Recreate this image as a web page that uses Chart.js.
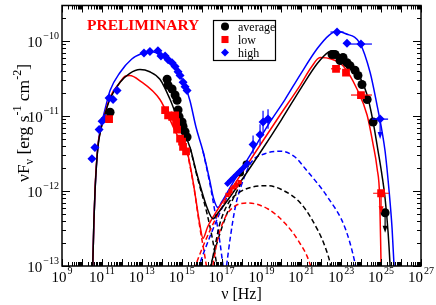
<!DOCTYPE html>
<html>
<head>
<meta charset="utf-8">
<script src="https://cdn.jsdelivr.net/npm/chart.js@4/dist/chart.umd.min.js"></script>
<style>
	html, body { margin: 0; padding: 0; background: #fff; }
</style>
</head>
<body>
<canvas id="sed" width="436" height="305"></canvas>
<script>
'use strict'

// all values are log10(nu / Hz) and log10(nuFnu / erg s^-1 cm^-2)
const xRange = [9, 27];
const yRange = [-13, -9.526];
const xLabelExps = [9, 11, 13, 15, 17, 19, 21, 23, 25, 27];
const yLabelExps = [-13, -12, -11, -10];

const seriesNames = ['average', 'low', 'high'];
const seriesColors = ['#000000', '#ff0000', '#0000ff'];
const seriesStyles = ['circle', 'rect', 'rectRot'];

// measured points
const avgPoints = [[11.41, -10.95], [14.27, -10.51], [14.32, -10.59], [14.52, -10.64], [14.67, -10.72],
	[14.77, -10.79], [14.82, -10.92], [14.87, -11.01], [15.02, -11.08], [15.07, -11.14], [15.17, -11.21],
	[15.27, -11.28], [22.54, -10.18], [22.69, -10.18], [22.94, -10.26], [23.09, -10.22], [23.29, -10.29],
	[23.44, -10.33], [23.69, -10.39], [23.84, -10.46], [24.04, -10.58], [24.3, -10.78], [24.6, -11.08],
	[25.2, -12.29]];
const lowPoints = [[11.36, -11.04], [14.17, -10.92], [14.32, -10.99], [14.52, -11.01], [14.67, -10.99],
	[14.72, -11.08], [14.77, -11.18], [14.92, -11.3], [15.02, -11.34], [15.07, -11.41], [15.22, -11.47],
	[22.74, -10.37], [23.24, -10.42], [23.99, -10.72], [25.0, -12.03]];
const highPoints = [[10.5, -11.57], [10.65, -11.42], [10.86, -11.18], [11.01, -11.07], [11.16, -11.03],
	[11.36, -10.76], [11.56, -10.78], [11.76, -10.66], [13.11, -10.16], [13.41, -10.14], [13.81, -10.13],
	[13.96, -10.2], [14.17, -10.2], [14.32, -10.25], [14.52, -10.29], [14.67, -10.34], [14.82, -10.41],
	[14.92, -10.46], [15.07, -10.55], [15.17, -10.61], [15.27, -10.66], [18.58, -11.38], [18.93, -11.25],
	[19.08, -11.08], [19.33, -11.04], [22.79, -9.88], [23.29, -10.03], [23.99, -10.04], [24.95, -11.04]];

// X-ray spectra, drawn smaller
const avgXray = [[17.95, -11.76], [18.23, -11.64]];
const lowXray = [[17.3, -12.05], [17.45, -12.0], [17.6, -11.95], [17.75, -11.92], [17.9, -11.88]];
const highXray = [[17.3, -11.9], [17.45, -11.86], [17.6, -11.82], [17.75, -11.78], [17.9, -11.74],
	[18.05, -11.7], [18.2, -11.66], [18.3, -11.63]];

// error bars: [x, y, x minus, x plus, y minus, y plus, upper limit]
const avgBars = [[24.6, -11.08, 0, 0, 0.05, 0.05, 0], [25.2, -12.29, 0, 0, 0, 0, 1]];
const lowBars = [[22.74, -10.37, 0.25, 0.25, 0, 0, 0], [23.99, -10.72, 0.5, 0.55, 0, 0, 0],
	[25.0, -12.03, 0.4, 0.4, 0, 0, 1], [17.45, -12.0, 0.08, 0.08, 0.06, 0.06, 0],
	[17.75, -11.92, 0.08, 0.08, 0.06, 0.06, 0]];
const highBars = [[18.58, -11.38, 0, 0, 0.12, 0.12, 0], [18.93, -11.25, 0, 0, 0.14, 0.14, 0],
	[19.08, -11.08, 0, 0, 0.15, 0.15, 0], [19.33, -11.04, 0, 0, 0.13, 0.13, 0],
	[22.79, -9.88, 0.33, 0.33, 0, 0, 0], [23.99, -10.04, 0.7, 0.55, 0, 0, 0],
	[24.95, -11.04, 0.4, 0.4, 0, 0, 1]];

// model curves (solid: total, dashed: components)
const avgTotal = [[10.45, -13.3], [10.54, -13.0], [10.6, -12.4], [10.66, -11.98], [10.8, -11.42],
	[10.95, -11.18], [11.15, -10.98], [11.41, -10.77], [11.91, -10.55], [12.4, -10.43], [12.91, -10.38],
	[13.4, -10.41], [13.91, -10.51], [14.42, -10.78], [14.92, -11.12], [15.07, -11.2], [15.42, -11.42],
	[15.77, -11.78], [16.27, -12.22], [16.57, -12.37], [16.8, -12.3], [17.5, -12.05], [18.98, -11.47],
	[20.0, -11.05], [21.0, -10.62], [21.8, -10.3], [22.34, -10.15], [22.59, -10.13], [23.0, -10.2],
	[23.59, -10.33], [24.3, -10.72], [24.6, -11.08], [24.85, -11.47], [25.05, -11.8], [25.2, -12.1],
	[25.35, -12.55], [25.45, -13.0], [25.5, -13.3]];
const lowTotal = [[10.45, -13.3], [10.54, -13.0], [10.6, -12.4], [10.66, -11.95], [10.8, -11.4],
	[10.95, -11.17], [11.15, -10.97], [11.41, -10.75], [11.91, -10.55], [12.16, -10.47], [12.4, -10.46],
	[12.91, -10.53], [13.91, -10.78], [14.77, -11.25], [15.27, -11.47], [15.57, -11.87], [15.92, -12.46],
	[16.07, -12.63], [16.3, -12.48], [16.8, -12.25], [17.5, -11.97], [18.73, -11.47], [19.9, -11.0],
	[20.94, -10.59], [21.5, -10.35], [21.94, -10.22], [22.5, -10.24], [23.09, -10.33], [23.79, -10.64],
	[24.3, -10.99], [24.6, -11.38], [24.8, -11.7], [24.93, -12.1], [25.0, -13.0], [25.03, -13.3]];
const highTotal = [[10.45, -13.3], [10.54, -13.0], [10.6, -12.4], [10.66, -11.98], [10.8, -11.4],
	[10.95, -11.14], [11.15, -10.92], [11.41, -10.66], [11.91, -10.42], [12.5, -10.24], [13.06, -10.16],
	[13.4, -10.14], [13.76, -10.16], [14.2, -10.22], [14.77, -10.38], [15.2, -10.62], [15.42, -10.8],
	[15.72, -11.15], [16.07, -11.47], [16.4, -11.85], [16.6, -12.1], [16.82, -12.22], [17.0, -12.15],
	[17.5, -11.92], [18.48, -11.5], [19.33, -11.12], [20.18, -10.78], [20.94, -10.45], [21.8, -10.1],
	[22.4, -9.92], [22.79, -9.87], [23.2, -9.9], [23.94, -10.03], [24.45, -10.42], [24.8, -10.86],
	[25.05, -11.21], [25.2, -11.47], [25.4, -12.0], [25.55, -12.5], [25.65, -13.0], [25.7, -13.3]];

const avgSync = [[15.42, -11.42], [15.77, -11.8], [16.27, -12.3], [16.55, -12.65], [16.8, -13.05]];
const lowSync = [[15.27, -11.47], [15.6, -11.93], [15.92, -12.5], [16.15, -12.85], [16.3, -13.1]];
const highSync = [[16.07, -11.47], [16.4, -11.88], [16.65, -12.25], [16.9, -12.65], [17.1, -13.05]];

const avgEC = [[16.3, -13.15], [16.6, -12.85], [17.0, -12.5], [17.5, -12.15], [18.0, -11.88]];
const lowEC = [[15.5, -13.15], [15.8, -12.92], [16.1, -12.72], [16.5, -12.48], [17.0, -12.22], [17.5, -11.99]];
const highEC = [[15.7, -13.15], [16.0, -12.9], [16.4, -12.62], [16.9, -12.3], [17.5, -11.95]];

const avgSSC = [[16.4, -13.1], [16.7, -12.7], [16.9, -12.45], [17.32, -12.17], [17.82, -12.03],
	[18.48, -11.95], [19.33, -11.93], [20.0, -11.98], [20.99, -12.17], [21.84, -12.53], [22.2, -12.75],
	[22.44, -12.96], [22.5, -13.05]];
const lowSSC = [[16.5, -13.1], [16.8, -12.65], [17.17, -12.36], [17.67, -12.2], [18.33, -12.16],
	[19.33, -12.24], [20.18, -12.43], [20.84, -12.66], [21.44, -12.98], [21.5, -13.05]];
const highSSC = [[17.2, -13.1], [17.45, -12.6], [17.7, -12.2], [18.0, -11.92], [18.48, -11.62],
	[19.2, -11.5], [19.98, -11.47], [20.7, -11.55], [21.19, -11.7], [22.34, -12.09], [23.19, -12.49],
	[23.69, -12.96], [23.75, -13.05]];

const serif = '"Liberation Serif", "DejaVu Serif", serif';

let toXY = (arr) => arr.map((p) => ({ x: p[0], y: p[1] }));

let curve = (arr, color, dashed) => ({
	data: toXY(arr),
	showLine: true,
	borderColor: color,
	borderWidth: 1.5,
	borderDash: dashed ? [5, 3] : [],
	pointRadius: 0,
	tension: 0.4,
	cubicInterpolationMode: 'monotone',
	order: dashed ? 3 : 2
});

let markers = (arr, i, radius) => ({
	data: toXY(arr),
	showLine: false,
	pointStyle: seriesStyles[i],
	pointRadius: radius,
	pointBackgroundColor: seriesColors[i],
	pointBorderColor: seriesColors[i],
	pointBorderWidth: 0,
	order: 1
});

let datasets = [
	curve(avgSSC, seriesColors[0], true), curve(lowSSC, seriesColors[1], true), curve(highSSC, seriesColors[2], true),
	curve(avgEC, seriesColors[0], true), curve(lowEC, seriesColors[1], true), curve(highEC, seriesColors[2], true),
	curve(avgSync, seriesColors[0], true), curve(lowSync, seriesColors[1], true), curve(highSync, seriesColors[2], true),
	curve(avgTotal, seriesColors[0], false), curve(lowTotal, seriesColors[1], false), curve(highTotal, seriesColors[2], false),
	markers(lowXray, 1, 3), markers(highXray, 2, 3.5), markers(avgXray, 0, 3.5),
	markers(lowPoints, 1, 5.5), markers(avgPoints, 0, 4.5), markers(highPoints, 2, 4.5)
];

// draws "10" with a superscript exponent, x is the anchor given by align
let drawPow = (ctx, exp, x, y, align) => {
	ctx.font = '15px ' + serif;
	let wBase = ctx.measureText('10').width;
	ctx.font = '10px ' + serif;
	let sup = String(exp).replace('-', '\u2212');
	let wSup = ctx.measureText(sup).width;
	let total = wBase + wSup + 1;
	let left = align === 'right' ? x - total : x - total / 2;
	ctx.textAlign = 'left';
	ctx.textBaseline = 'alphabetic';
	ctx.font = '15px ' + serif;
	ctx.fillText('10', left, y);
	ctx.font = '10px ' + serif;
	ctx.fillText(sup, left + wBase + 1, y - 8);
};

let errorBars = {
	id: 'errorBars',
	afterDatasetsDraw(chart) {
		let { ctx, scales: { x, y } } = chart;
		ctx.save();
		ctx.lineWidth = 1.2;
		[avgBars, lowBars, highBars].forEach((bars, i) => {
			ctx.strokeStyle = seriesColors[i];
			ctx.fillStyle = seriesColors[i];
			bars.forEach((b) => {
				let px = x.getPixelForValue(b[0]);
				let py = y.getPixelForValue(b[1]);
				ctx.beginPath();
				if (b[2] || b[3]) {
					ctx.moveTo(x.getPixelForValue(b[0] - b[2]), py);
					ctx.lineTo(x.getPixelForValue(b[0] + b[3]), py);
				}
				if (b[4] || b[5]) {
					ctx.moveTo(px, y.getPixelForValue(b[1] - b[4]));
					ctx.lineTo(px, y.getPixelForValue(b[1] + b[5]));
				}
				if (b[6]) {
					ctx.moveTo(px, py);
					ctx.lineTo(px, py + 17);
				}
				ctx.stroke();
				if (b[6]) {
					ctx.beginPath();
					ctx.moveTo(px, py + 20);
					ctx.lineTo(px - 2.5, py + 13);
					ctx.lineTo(px + 2.5, py + 13);
					ctx.closePath();
					ctx.fill();
				}
			});
		});
		ctx.restore();
	}
};

let frame = {
	id: 'frame',
	afterDraw(chart) {
		let { ctx, chartArea: a, scales: { x, y } } = chart;
		ctx.save();
		ctx.strokeStyle = '#000';
		ctx.fillStyle = '#000';

		// minor and major ticks, pointing inwards on all four sides
		ctx.lineWidth = 1;
		ctx.beginPath();
		for (let d = xRange[0]; d <= xRange[1]; d++) {
			for (let k = 1; k <= 9; k++) {
				let v = d + Math.log10(k);
				if (v > xRange[1]) break;
				let px = Math.round(x.getPixelForValue(v)) + 0.5;
				let len = k === 1 ? 7 : 4;
				ctx.moveTo(px, a.bottom); ctx.lineTo(px, a.bottom - len);
				ctx.moveTo(px, a.top); ctx.lineTo(px, a.top + len);
			}
		}
		for (let d = yRange[0]; d <= Math.ceil(yRange[1]); d++) {
			for (let k = 1; k <= 9; k++) {
				let v = d + Math.log10(k);
				if (v > yRange[1]) break;
				let py = Math.round(y.getPixelForValue(v)) + 0.5;
				let len = k === 1 ? 8 : 4;
				ctx.moveTo(a.left, py); ctx.lineTo(a.left + len, py);
				ctx.moveTo(a.right, py); ctx.lineTo(a.right - len, py);
			}
		}
		ctx.stroke();

		ctx.lineWidth = 1.5;
		ctx.strokeRect(a.left, a.top, a.right - a.left, a.bottom - a.top);

		// tick labels
		xLabelExps.forEach((e) => drawPow(ctx, e, x.getPixelForValue(e), a.bottom + 16, 'center'));
		yLabelExps.forEach((e) => drawPow(ctx, e, a.left - 3, y.getPixelForValue(e) + 6, 'right'));

		// axis titles
		ctx.font = '16px ' + serif;
		ctx.textAlign = 'center';
		ctx.fillText('\u03bd [Hz]', (a.left + a.right) / 2, 299);

		ctx.save();
		ctx.translate(29, 123);
		ctx.rotate(-Math.PI / 2);
		let parts = [['\u03bdF', 17.5, 0], ['\u03bd', 12, 4], [' [erg s', 17.5, 0], ['-1', 12, -8],
			[' cm', 17.5, 0], ['-2', 12, -8], [']', 17.5, 0]];
		let total = 0;
		parts.forEach((p) => { ctx.font = p[1] + 'px ' + serif; total += ctx.measureText(p[0]).width; });
		let cx = -total / 2;
		ctx.textAlign = 'left';
		parts.forEach((p) => {
			ctx.font = p[1] + 'px ' + serif;
			ctx.fillText(p[0], cx, p[2]);
			cx += ctx.measureText(p[0]).width;
		});
		ctx.restore();

		// preliminary stamp
		ctx.font = 'bold 15.5px ' + serif;
		ctx.fillStyle = '#ff0000';
		ctx.textAlign = 'left';
		ctx.fillText('PRELIMINARY', 87, 30);

		// legend box
		ctx.fillStyle = '#fff';
		ctx.fillRect(213, 20, 62, 40);
		ctx.strokeStyle = '#000';
		ctx.lineWidth = 1.2;
		ctx.strokeRect(213.5, 20.5, 62, 40);
		ctx.font = '12px ' + serif;
		seriesNames.forEach((name, i) => {
			let ly = 26.5 + i * 13;
			ctx.fillStyle = seriesColors[i];
			ctx.strokeStyle = seriesColors[i];
			Chart.helpers.drawPoint(ctx, {
				pointStyle: seriesStyles[i],
				radius: i === 1 ? 5 : 4,
				borderWidth: 0,
				rotation: 0
			}, 225, ly);
			ctx.fillStyle = '#000';
			ctx.fillText(name, 238, ly + 4);
		});
		ctx.restore();
	}
};

new Chart(document.getElementById('sed'), {
	type: 'scatter',
	data: { datasets: datasets },
	options: {
		responsive: false,
		animation: false,
		events: [],
		layout: { padding: { left: 62, right: 15, top: 2, bottom: 39 } },
		plugins: { legend: { display: false }, tooltip: { enabled: false } },
		scales: {
			x: { type: 'linear', display: false, min: xRange[0], max: xRange[1] },
			y: { type: 'linear', display: false, min: yRange[0], max: yRange[1] }
		}
	},
	plugins: [errorBars, frame]
});
</script>
</body>
</html>
